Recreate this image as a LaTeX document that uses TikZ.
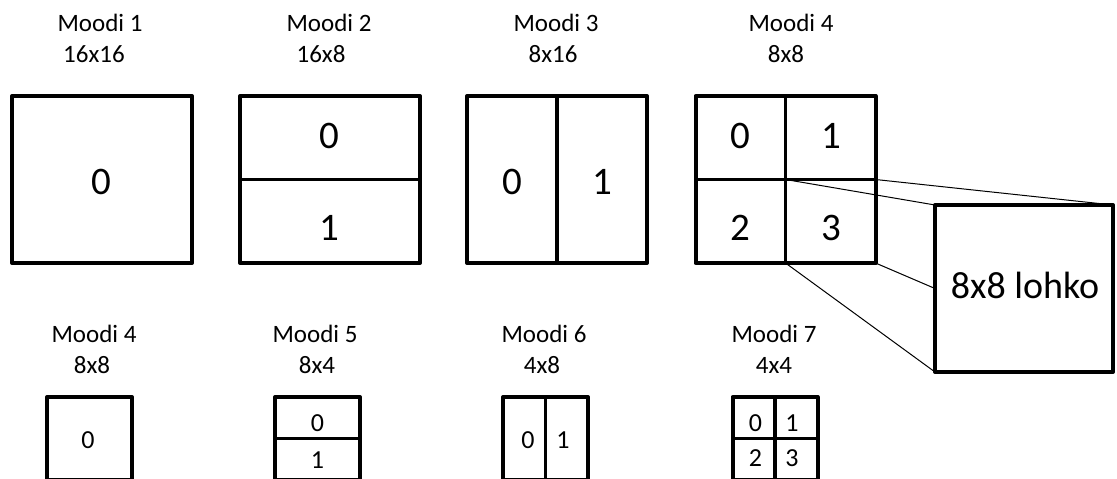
\documentclass[tikz,border=0pt]{standalone}
\usepackage{fontspec}
\setmainfont{Carlito}
\begin{document}
\begin{tikzpicture}[x=1pt,y=-1pt,
  frame/.style={draw, rectangle, line width=4pt, line join=round, inner sep=0pt, outer sep=0pt},
  bigbox/.style={frame, minimum width=180pt, minimum height=167pt},
  smallbox/.style={frame, minimum width=85pt, minimum height=83pt},
  lohkobox/.style={frame, minimum width=178pt, minimum height=167pt},
  divider/.style={line width=3.5pt},
  zoomline/.style={line width=1pt},
  lab/.style={anchor=base, inner sep=0pt, font=\fontsize{25}{30}\selectfont},
  bigdig/.style={anchor=base, inner sep=0pt, font=\fontsize{39}{47}\selectfont},
  smalldig/.style={anchor=base, inner sep=0pt, font=\fontsize{26}{31}\selectfont}]
\useasboundingbox (0,0) rectangle (1117,479);

% mode labels, upper row
\node[lab] (t1a) at (100,31) {Moodi 1};
\node[lab] (t1b) at (94,62) {16x16};
\node[lab] (t2a) at (329,31) {Moodi 2};
\node[lab] (t2b) at (321,62) {16x8};
\node[lab] (t3a) at (556,31) {Moodi 3};
\node[lab] (t3b) at (553,62) {8x16};
\node[lab] (t4a) at (791,31) {Moodi 4};
\node[lab] (t4b) at (786,62) {8x8};

% 16x16 macroblock partitions
\node[bigbox] (b1) at (102,179.5) {};
\node[bigbox] (b2) at (330,179.5) {};
\node[bigbox] (b3) at (557,179.5) {};
\node[bigbox] (b4) at (785.5,179.5) {};
\draw[divider] (b2.west) -- (b2.east);
\draw[divider] (b3.north) -- (b3.south);
\draw[divider] (b4.north) -- (b4.south);
\draw[divider] (b4.west) -- (b4.east);

\node[bigdig] (d10) at (101,194) {0};
\node[bigdig] (d20) at (329,148) {0};
\node[bigdig] (d21) at (329,240) {1};
\node[bigdig] (d30) at (512,194) {0};
\node[bigdig] (d31) at (602,194) {1};
\node[bigdig] (d40) at (740,148) {0};
\node[bigdig] (d41) at (831,148) {1};
\node[bigdig] (d42) at (740,240) {2};
\node[bigdig] (d43) at (831,240) {3};

% enlarged 8x8 block
\node[lohkobox] (L) at (1024,288.5) {};
\node[bigdig, font=\fontsize{38}{46}\selectfont] (Lt) at (1025,298) {8x8 lohko};
\draw[zoomline] (b4.east) -- (L.north east);
\draw[zoomline] (b4.center) -- (L.north west);
\draw[zoomline] (b4.south east) -- (L.west);
\draw[zoomline] (b4.south) -- (L.south west);

% mode labels, lower row
\node[lab] (u4a) at (94,342) {Moodi 4};
\node[lab] (u4b) at (92,373) {8x8};
\node[lab] (u5a) at (315,342) {Moodi 5};
\node[lab] (u5b) at (317,373) {8x4};
\node[lab] (u6a) at (544,342) {Moodi 6};
\node[lab] (u6b) at (542,373) {4x8};
\node[lab] (u7a) at (774,342) {Moodi 7};
\node[lab] (u7b) at (774,373) {4x4};

% 8x8 sub-partitions
\node[smallbox] (c4) at (89.5,438.5) {};
\node[smallbox] (c5) at (317.5,438.5) {};
\node[smallbox] (c6) at (545.5,438.5) {};
\node[smallbox] (c7) at (775,438.5) {};
\draw[divider] (c5.west) -- (c5.east);
\draw[divider] (c6.north) -- (c6.south);
\draw[divider] (c7.north) -- (c7.south);
\draw[divider] (c7.west) -- (c7.east);

\node[smalldig] (e40) at (88,448) {0};
\node[smalldig] (e50) at (317.5,431) {0};
\node[smalldig] (e51) at (317.5,468) {1};
\node[smalldig] (e60) at (528,448) {0};
\node[smalldig] (e61) at (563,448) {1};
\node[smalldig] (e70) at (755.5,431.5) {0};
\node[smalldig] (e71) at (792,431.5) {1};
\node[smalldig] (e72) at (755.5,466.5) {2};
\node[smalldig] (e73) at (792,466.5) {3};
\end{tikzpicture}
\end{document}
